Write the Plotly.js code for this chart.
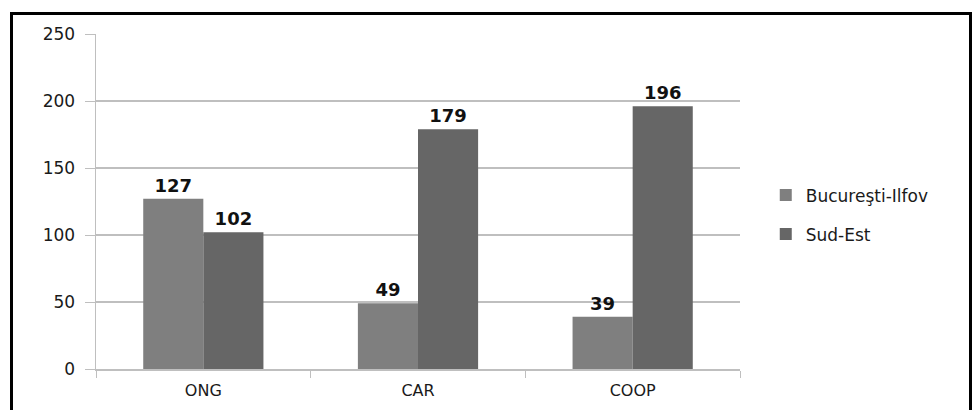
<!DOCTYPE html>
<html><head><meta charset="utf-8">
<script src="https://cdn.plot.ly/plotly-3.0.1.min.js"></script>
<style>
html,body{margin:0;padding:0;background:#fff;}
#wrap{position:relative;width:978px;height:410px;overflow:hidden;}
#chart{position:absolute;left:0;top:0;width:978px;height:410px;}
#frame{position:absolute;left:10px;top:12px;width:962px;height:410px;border:3px solid #000;box-sizing:border-box;pointer-events:none;}
</style></head>
<body>
<div id="wrap"><div id="chart"></div><div id="frame"></div></div>
<script>
const categories = ["ONG", "CAR", "COOP"];
const seriesNames = ["Bucureşti-Ilfov", "Sud-Est"];
const bucurestiIlfov = [127, 49, 39];
const sudEst = [102, 179, 196];
const yTicks = [0, 50, 100, 150, 200, 250];

const fam = "DejaVu Sans, sans-serif";
const labelFont = {family: fam, size: 18, color: "#111", weight: "bold"};
const traces = [
  {type: "bar", name: seriesNames[0], legendgroup: "a", x: categories, y: bucurestiIlfov, marker: {color: "#7f7f7f"},
   text: bucurestiIlfov.map(String), textposition: "outside", textfont: labelFont, cliponaxis: false},
  {type: "bar", name: seriesNames[1], legendgroup: "b", x: categories, y: sudEst, marker: {color: "#666666"},
   text: sudEst.map(String), textposition: "outside", textfont: labelFont, cliponaxis: false}
];
const layout = {
  width: 978, height: 410,
  margin: {l: 96, r: 238, t: 34, b: 41},
  paper_bgcolor: "#fff", plot_bgcolor: "#fff",
  font: {family: fam, size: 17, color: "#1a1a1a"},
  barmode: "group", bargap: 0.44, bargroupgap: 0,
  showlegend: true,
  legend: {x: 1.04, xanchor: "left", y: 0.46, yanchor: "middle", font: {family: fam, size: 17, color: "#1a1a1a"},
           tracegroupgap: 14, itemwidth: 30},
  xaxis: {type: "category", showgrid: false, showline: true, linecolor: "#bfbfbf", linewidth: 1.5,
          ticks: "outside", tickson: "boundaries", ticklen: 7, tickcolor: "#bfbfbf",
          ticklabelstandoff: 6, tickfont: {family: fam, size: 16, color: "#1a1a1a"}},
  yaxis: {range: [0, 250], tickvals: yTicks, showgrid: true, gridcolor: "#bfbfbf", gridwidth: 1.5,
          showline: true, linecolor: "#bfbfbf", linewidth: 1.5, zeroline: false,
          ticks: "outside", ticklen: 10, tickcolor: "#bfbfbf",
          ticklabelstandoff: 6, tickfont: {family: fam, size: 17, color: "#1a1a1a"}}
};
Plotly.newPlot("chart", traces, layout, {staticPlot: true});
</script>
</body></html>
